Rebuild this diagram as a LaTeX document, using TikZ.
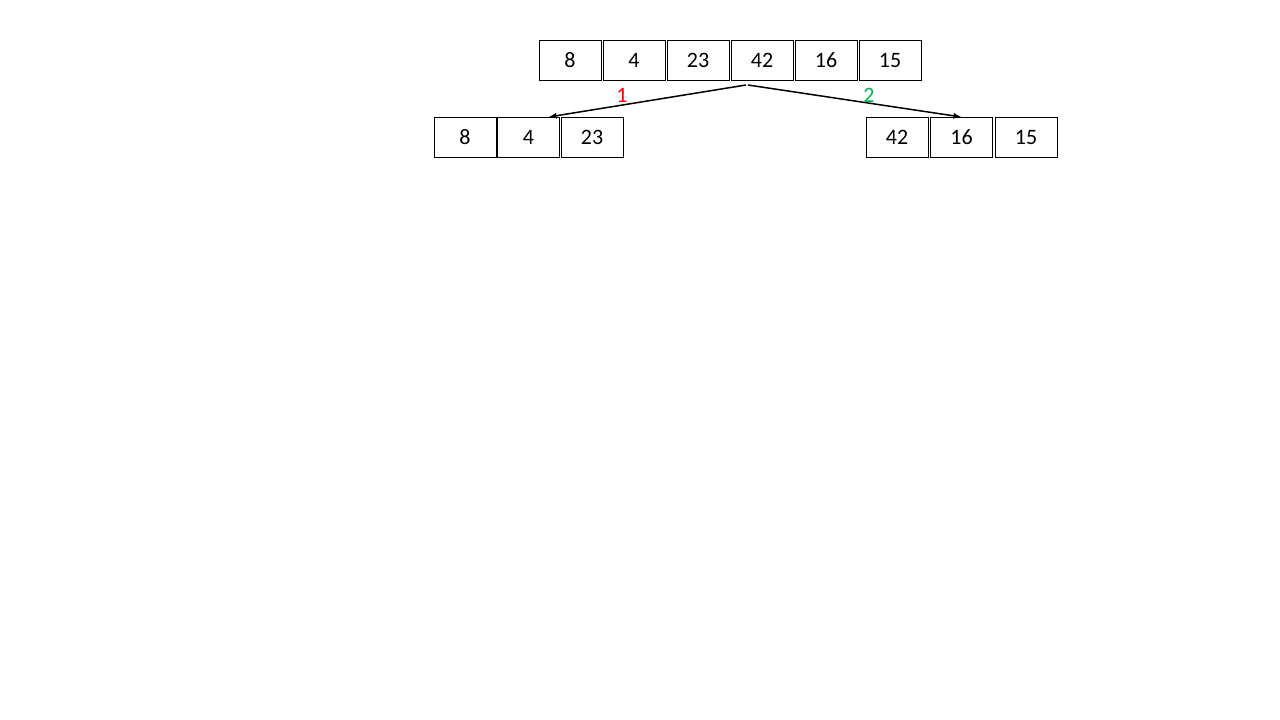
\documentclass[tikz,border=0pt]{standalone}
\usepackage{fontspec}
\setmainfont{Carlito}
\usepackage{tikz}
\usetikzlibrary{arrows.meta, positioning}
\definecolor{splitred}{RGB}{255,0,0}
\definecolor{splitgreen}{RGB}{0,176,80}

\begin{document}
\begin{tikzpicture}[
		x=1pt, y=-1pt,
		cell/.style={rectangle, draw, line width=0.9pt, outer sep=0pt, minimum width=62pt, minimum height=40pt, inner sep=0pt, font=\fontsize{22}{26}\selectfont},
		split arrow/.style={draw, line width=1.5pt, -{Latex[length=8pt, width=6pt]}},
		step label/.style={font=\fontsize{22}{26}\selectfont}
	]
	\useasboundingbox (0,0) rectangle (1280,720);
	% full array
	\node[cell] (t1) at (570,60) {8};
	\node[cell, right=2pt of t1] (t2) {4};
	\node[cell, right=2pt of t2] (t3) {23};
	\node[cell, right=2pt of t3] (t4) {42};
	\node[cell, right=2pt of t4] (t5) {16};
	\node[cell, right=2pt of t5] (t6) {15};
	% left half
	\node[cell] (l1) at (465,137) {8};
	\node[cell, right=1.5pt of l1] (l2) {4};
	\node[cell, right=1.5pt of l2] (l3) {23};
	% right half
	\node[cell] (r1) at (897,137) {42};
	\node[cell, right=2.5pt of r1] (r2) {16};
	\node[cell, right=2.5pt of r2] (r3) {15};
	% arrows
	\coordinate (split) at (747,85);
	\coordinate (lend) at ([xshift=20pt]l2.north);
	\draw[split arrow] ([xshift=-1pt]split) -- (lend);
	\draw[split arrow] ([xshift=1pt]split) -- (r2.north);
	\node[step label, text=splitred] (s1) at (622,95) {1};
	\node[step label, text=splitgreen] (s2) at (869,95) {2};
\end{tikzpicture}
\end{document}
